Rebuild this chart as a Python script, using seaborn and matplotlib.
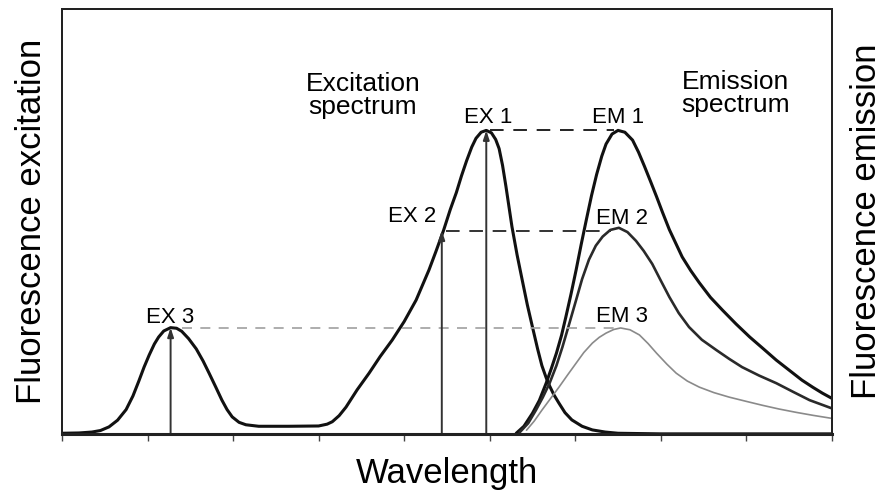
import numpy as np
import pandas as pd
import matplotlib
matplotlib.use("Agg")
import matplotlib.pyplot as plt
import seaborn as sns

# ---------------- data ----------------
# Excitation spectrum (x in tick units, y in % of EX 1 peak)
ex_x = [0.00, 0.20, 0.35, 0.45, 0.55, 0.65, 0.75, 0.83, 0.90, 0.96, 1.02, 1.08, 1.13,
        1.19, 1.27, 1.34, 1.40, 1.48, 1.57, 1.65, 1.72, 1.80, 1.87, 1.93, 1.99, 2.07,
        2.15, 2.30, 2.65, 3.00, 3.10, 3.16, 3.24, 3.32, 3.45, 3.59, 3.72, 3.86, 4.00,
        4.14, 4.29, 4.37, 4.46, 4.54, 4.61, 4.67, 4.73, 4.79, 4.84, 4.90, 4.96, 5.02,
        5.07, 5.11, 5.15, 5.19, 5.26, 5.32, 5.38, 5.44, 5.50, 5.56, 5.61, 5.66, 5.70,
        5.75, 5.81, 5.88, 5.96, 6.08, 6.20, 6.35, 6.50, 7.00, 9.00]
ex_y = [0.2, 0.3, 0.6, 1.1, 2.3, 4.5, 8.0, 12.5, 17.5, 22.0, 26.0, 29.6, 31.9,
        33.9, 35.0, 34.8, 33.8, 31.4, 28.0, 24.0, 20.0, 15.3, 11.1, 8.0, 5.6, 3.8,
        3.0, 2.5, 2.5, 2.6, 3.2, 4.0, 6.0, 8.8, 14.5, 20.0, 25.5, 30.9, 37.0,
        44.1, 54.0, 60.0, 67.0, 74.0, 79.5, 85.0, 90.0, 94.5, 97.4, 99.4, 100.0, 99.2,
        97.0, 94.0, 88.5, 81.5, 68.3, 59.0, 50.7, 42.5, 35.2, 28.0, 22.5, 18.5, 15.8,
        12.9, 10.1, 7.0, 4.6, 2.5, 1.3, 0.6, 0.2, 0.0, 0.0]

# Emission spectra
em1_x = [5.31, 5.40, 5.50, 5.58, 5.66, 5.72, 5.78, 5.84, 5.89, 5.95, 6.01, 6.07, 6.13,
         6.19, 6.25, 6.31, 6.36, 6.43, 6.50, 6.58, 6.67, 6.74, 6.81, 6.88, 6.95, 7.02,
         7.10, 7.18, 7.25, 7.35, 7.45, 7.58, 7.72, 7.88, 8.04, 8.20, 8.35, 8.50, 8.65,
         8.78, 8.89, 9.00]
em1_y = [0.2, 2.5, 6.8, 11.0, 16.7, 21.5, 26.6, 32.5, 38.5, 46.0, 54.0, 62.5, 70.6,
         78.5, 85.5, 91.5, 95.5, 98.8, 100.0, 99.4, 96.8, 92.8, 88.1, 83.2, 78.2, 73.0,
         67.3, 62.5, 58.3, 53.8, 49.8, 45.0, 40.8, 36.2, 31.9, 28.0, 24.3, 21.0, 17.7,
         15.3, 13.4, 11.7]
em2_x = [5.35, 5.45, 5.54, 5.62, 5.70, 5.78, 5.85, 5.93, 6.01, 6.08, 6.16, 6.24, 6.32,
         6.41, 6.51, 6.61, 6.71, 6.80, 6.90, 7.00, 7.10, 7.21, 7.33, 7.48, 7.65, 7.80,
         7.95, 8.15, 8.35, 8.55, 8.74, 9.00]
em2_y = [0.5, 3.5, 7.8, 12.0, 16.7, 22.5, 28.6, 36.3, 44.1, 51.0, 57.4, 62.0, 65.0,
         67.2, 67.9, 66.5, 63.6, 60.3, 56.0, 50.5, 45.1, 39.8, 35.2, 31.0, 27.6, 24.7,
         22.0, 19.2, 16.7, 13.8, 11.1, 8.4]
em3_x = [5.43, 5.52, 5.61, 5.71, 5.81, 5.91, 6.01, 6.10, 6.20, 6.28, 6.36, 6.45, 6.53,
         6.64, 6.75, 6.85, 6.95, 7.07, 7.18, 7.31, 7.45, 7.62, 7.80, 8.00, 8.19, 8.38,
         8.58, 8.78, 9.00]
em3_y = [1.2, 4.2, 7.8, 11.6, 15.4, 19.4, 23.3, 26.8, 29.9, 31.8, 33.2, 34.4, 34.9,
         34.3, 32.6, 29.8, 26.6, 23.0, 20.0, 17.4, 15.4, 13.6, 12.1, 10.7, 9.4, 8.2,
         7.1, 6.1, 5.1]

# Excitation wavelengths and resulting intensity levels
ex_labels = ["EX 1", "EX 2", "EX 3"]
em_labels = ["EM 1", "EM 2", "EM 3"]
ex_pos = [4.96, 4.44, 1.27]
levels = [100.0, 67.0, 35.0]
dash_start = [5.00, 4.49, 1.40]
dash_end = [6.45, 6.42, 6.45]
x_ticks = [0, 1, 2, 3, 4, 5, 6, 7, 8, 9]

# ---------------- style ----------------
sns.set_theme(style="ticks")
plt.rcParams["font.family"] = ["Liberation Sans", "DejaVu Sans"]
plt.rcParams["text.color"] = "#000000"
plt.rcParams["axes.labelcolor"] = "#000000"

fig = plt.figure(figsize=(8.85, 5.01), dpi=100)
ax = fig.add_axes([0.070, 0.134, 0.870, 0.848])

ex_df = pd.DataFrame({"x": ex_x, "y": ex_y})
em_df = pd.concat([
    pd.DataFrame({"x": em1_x, "y": em1_y, "s": "EM 1"}),
    pd.DataFrame({"x": em2_x, "y": em2_y, "s": "EM 2"}),
    pd.DataFrame({"x": em3_x, "y": em3_y, "s": "EM 3"}),
])

sns.lineplot(data=ex_df, x="x", y="y", ax=ax, color="#111111", lw=2.2,
             sort=False, estimator=None, solid_joinstyle="round")
em_styles = {"EM 1": ("#111111", 2.2), "EM 2": ("#2a2a2a", 1.9), "EM 3": ("#8a8a8a", 1.2)}
for name, sub in em_df.groupby("s"):
    c, lw = em_styles[name]
    sns.lineplot(data=sub, x="x", y="y", ax=ax, color=c, lw=lw, sort=False,
                 estimator=None, solid_joinstyle="round")

# dashed level lines
dash_styles = [("#222222", (7, 5), 1.4), ("#333333", (7, 5), 1.4), ("#a0a0a0", (6, 5), 1.2)]
for i in range(3):
    c, d, lw = dash_styles[i]
    ax.plot([dash_start[i], dash_end[i]], [levels[i], levels[i]], color=c, lw=lw,
            dashes=d)

# vertical arrows at excitation wavelengths
for i in range(3):
    ax.annotate("", xy=(ex_pos[i], levels[i]), xytext=(ex_pos[i], 0),
                arrowprops=dict(arrowstyle="-|>,head_length=0.45,head_width=0.15",
                                color="#333333", lw=1.4, shrinkA=0, shrinkB=0))

# labels
fs_lab = 16
ax.text(4.98, 102.6, ex_labels[0], ha="center", va="baseline", fontsize=fs_lab)
ax.text(4.09, 69.9, ex_labels[1], ha="center", va="baseline", fontsize=fs_lab)
ax.text(1.27, 36.6, ex_labels[2], ha="center", va="baseline", fontsize=fs_lab)
ax.text(6.50, 102.6, em_labels[0], ha="center", va="baseline", fontsize=fs_lab)
ax.text(6.55, 69.0, em_labels[1], ha="center", va="baseline", fontsize=fs_lab)
ax.text(6.55, 36.9, em_labels[2], ha="center", va="baseline", fontsize=fs_lab)
ax.text(3.52, 112.9, "Excitation", ha="center", va="baseline", fontsize=19)
ax.text(3.52, 105.3, "spectrum", ha="center", va="baseline", fontsize=19)
ax.text(7.87, 113.6, "Emission", ha="center", va="baseline", fontsize=19)
ax.text(7.87, 106.0, "spectrum", ha="center", va="baseline", fontsize=19)

ax.set_xlim(0, 9)
ax.set_ylim(0, 140)
ax.set_xticks(x_ticks)
ax.set_xticklabels([])
ax.set_yticks([])
ax.tick_params(axis="x", direction="out", length=5, width=1.0, color="#444444")
ax.set_xlabel("Wavelength", fontsize=25, labelpad=8)
ax.set_ylabel("Fluorescence excitation", fontsize=25, labelpad=10)
ax2 = ax.twinx()
ax2.set_yticks([])
ax2.set_ylabel("Fluorescence emission", fontsize=25, labelpad=13)
for a in (ax, ax2):
    for s in a.spines.values():
        s.set_visible(True)
        s.set_color("#222222")
        s.set_linewidth(1.4)
ax.spines["bottom"].set_linewidth(2.2)

fig.savefig("out.png", dpi=100)
